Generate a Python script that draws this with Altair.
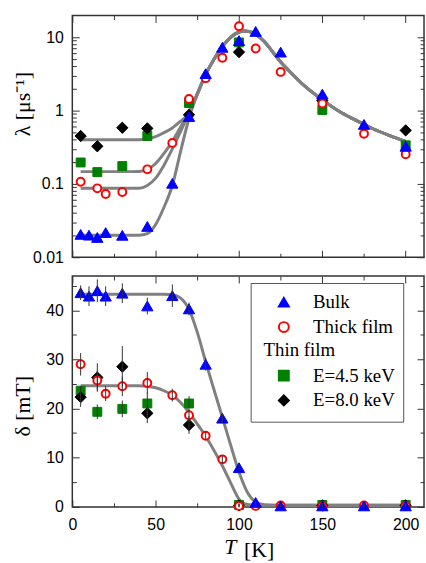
import altair as alt
import pandas as pd

# ---------------- legend groups ----------------
# group A: bulk / thick film (blank rows keep the framed box tall enough for the thin-film group)
A_DOM = ["Bulk", "Thick film", " ", "  ", "   "]
A_SHAPES = ["triangle-up", "circle", "circle", "circle", "circle"]
A_STROKES = ["#0000ff", "#ff0000", "transparent", "transparent", "transparent"]
A_FILLS = ["#0000ff", "#ffffff", "transparent", "transparent", "transparent"]
# group B: thin film
B_DOM = ["E=4.5 keV", "E=8.0 keV"]
B_SHAPES = ["square", "diamond"]
B_COLORS = ["#008000", "#000000"]

STYLE = {"Bulk": (130, 1), "Thick film": (64, 2), "E=4.5 keV": (81, 1), "E=8.0 keV": (130, 1)}
SERIF = "Liberation Serif, Times New Roman, serif"
SANS = "Liberation Sans, Arial, sans-serif"

# ---------------- top panel: lambda [1/us] ----------------
T_bulk = [5, 10, 15, 20, 30, 45, 60, 70, 80, 90, 100, 110, 125, 150, 175, 200]
lam_bulk = [0.0205, 0.020, 0.0186, 0.0217, 0.0199, 0.0263, 0.102, 0.83, 3.19, 7.3, 9.0, 12.0, 6.27, 1.68, 0.647, 0.326]
T_thick = [5, 15, 20, 30, 45, 60, 70, 80, 90, 100, 110, 125, 150, 175, 200]
lam_thick = [0.107, 0.087, 0.0727, 0.0774, 0.158, 0.362, 1.44, 2.77, 5.25, 14.1, 7.03, 3.37, 1.25, 0.484, 0.254]
T_thin = [5, 15, 30, 45, 70, 100, 150, 200]
lam_45 = [0.196, 0.145, 0.175, 0.45, 1.27, 8.5, 1.02, 0.336]
lam_80 = [0.45, 0.326, 0.583, 0.571, 0.875, 6.27, 1.37, 0.537]

Tc_top = [5, 10, 20, 30, 40, 45, 50, 55, 60, 65, 70, 75, 80, 85, 90, 95, 100, 103, 106, 110,
          115, 120, 125, 130, 140, 150, 160, 170, 180, 190, 200]
fit_bulk = [0.020, 0.020, 0.020, 0.020, 0.020, 0.021, 0.028, 0.048, 0.095, 0.28, 0.78, 1.7, 3.1, 5.0, 7.5, 10.0,
            11.8, 12.2, 12.0, 11.0, 8.8, 6.4, 4.6, 3.5, 2.1, 1.4, 0.98, 0.74, 0.57, 0.46, 0.38]
fit_thick = [0.087, 0.087, 0.087, 0.087, 0.087, 0.095, 0.12, 0.18, 0.30, 0.52, 0.93, 1.7, 3.1, 5.0, 7.5, 10.0,
             11.8, 12.2, 12.0, 11.0, 8.8, 6.4, 4.6, 3.5, 2.1, 1.4, 0.98, 0.74, 0.57, 0.46, 0.38]
fit_45 = [0.147, 0.147, 0.147, 0.147, 0.148, 0.158, 0.19, 0.26, 0.38, 0.60, 0.98, 1.7, 3.1, 5.0, 7.5, 10.0,
          11.8, 12.2, 12.0, 11.0, 8.8, 6.4, 4.6, 3.5, 2.1, 1.4, 0.98, 0.74, 0.57, 0.46, 0.38]
fit_80 = [0.40, 0.40, 0.40, 0.40, 0.40, 0.41, 0.44, 0.50, 0.58, 0.72, 0.92, 1.65, 3.1, 5.0, 7.5, 10.0,
          11.8, 12.2, 12.0, 11.0, 8.8, 6.4, 4.6, 3.5, 2.1, 1.4, 0.98, 0.74, 0.57, 0.46, 0.38]

# ---------------- bottom panel: delta [mT] ----------------
del_bulk = [43.6, 42.9, 44.0, 42.9, 43.5, 40.9, 43.0, 40.3, 29.0, 18.0, 7.9, 0.8, 0.1, 0.1, 0.1, 0.1]
err_bulk = [1.5, 2.0, 2.3, 2.0, 2.0, 1.7, 2.3, 1.3, 1.3, 1.0, 0.6, 0.4, 0.3, 0.3, 0.3, 0.3]
del_thick = [29.0, 25.7, 23.0, 24.5, 25.2, 22.7, 18.6, 14.4, 9.6, 0.1, 0.1, 0.2, 0.1, 0.2, 0.1]
err_thick = [2.3, 2.0, 1.5, 2.0, 2.2, 1.3, 1.0, 0.8, 0.8, 0.3, 0.3, 0.3, 0.3, 0.3, 0.3]
del_45 = [23.6, 19.3, 19.9, 21.0, 21.0, 0.3, 0.3, 0.3]
err_45 = [1.0, 1.5, 1.7, 2.2, 1.5, 0.3, 0.3, 0.3]
del_80 = [22.3, 26.3, 28.5, 19.0, 16.6, 0.2, 0.2, 0.2]
err_80 = [2.0, 2.9, 4.2, 2.0, 1.8, 0.3, 0.3, 0.3]

Tc_bulk = [5, 20, 40, 55, 60, 65, 70, 75, 80, 85, 90, 95, 100, 105, 110, 115, 120, 150, 200]
fitd_bulk = [43.3, 43.3, 43.3, 43.3, 43.2, 42.5, 40.2, 35.5, 29.5, 23.8, 18.2, 12.5, 7.0, 2.9, 0.9, 0.35, 0.25, 0.25, 0.25]
Tc_thick = [5, 20, 40, 45, 50, 55, 60, 65, 70, 75, 80, 85, 90, 95, 100, 105, 110, 150, 200]
fitd_thick = [24.6, 24.6, 24.6, 24.5, 24.2, 23.6, 22.7, 21.2, 19.2, 16.8, 14.3, 11.4, 8.3, 4.8, 1.5, 0.4, 0.25, 0.25, 0.25]


def pts_df(T, v, s, err=None):
    d = pd.DataFrame({"T": T, "v": v, "s": s})
    d["sz"] = STYLE[s][0]
    d["sw"] = STYLE[s][1]
    if err is not None:
        d["lo"] = [a - b for a, b in zip(v, err)]
        d["hi"] = [a + b for a, b in zip(v, err)]
    return d


top_A = pd.concat([pts_df(T_thick, lam_thick, "Thick film"), pts_df(T_bulk, lam_bulk, "Bulk")])
top_B = pd.concat([pts_df(T_thin, lam_45, "E=4.5 keV"), pts_df(T_thin, lam_80, "E=8.0 keV")])
bot_A = pd.concat([pts_df(T_thick, del_thick, "Thick film", err_thick), pts_df(T_bulk, del_bulk, "Bulk", err_bulk)])
bot_B = pd.concat([pts_df(T_thin, del_45, "E=4.5 keV", err_45), pts_df(T_thin, del_80, "E=8.0 keV", err_80)])
bot_err = pd.concat([bot_B, bot_A])

top_fit_a = pd.concat([pd.DataFrame({"T": Tc_top, "v": fit_bulk, "c": "b"}),
                       pd.DataFrame({"T": Tc_top, "v": fit_thick, "c": "t"})])
top_fit_b = pd.concat([pd.DataFrame({"T": Tc_top, "v": fit_45, "c": "g"}),
                       pd.DataFrame({"T": Tc_top, "v": fit_80, "c": "k"})])
bot_fit = pd.concat([pd.DataFrame({"T": Tc_bulk, "v": fitd_bulk, "c": "b"}),
                     pd.DataFrame({"T": Tc_thick, "v": fitd_thick, "c": "t"})])

XS = alt.Scale(domain=[0, 211], nice=False, zero=False)
YS_TOP = alt.Scale(type="log", domain=[0.01, 19.8], nice=False)
YS_BOT = alt.Scale(domain=[-0.1, 47], nice=False, zero=False)

XMAJ = [0, 50, 100, 150, 200]
XMIN = [25, 75, 125, 175]
YT_MAJ = [0.01, 0.1, 1, 10]
YT_MIN = [0.02, 0.03, 0.04, 0.05, 0.06, 0.07, 0.08, 0.09, 0.2, 0.3, 0.4, 0.5, 0.6, 0.7, 0.8, 0.9,
          2, 3, 4, 5, 6, 7, 8, 9]
YB_MAJ = [0, 10, 20, 30, 40]
YB_MIN = [5, 15, 25, 35, 45]
MAJ, MIN = 7, 4


def axis(orient, values, size, labels=False, title=None, **kw):
    d = dict(orient=orient, values=values, tickSize=size, offset=-size, labels=labels,
             domain=False, grid=False, labelFlush=False, labelOverlap=False)
    d.update(kw)
    return alt.Axis(title=title, **d)


LEG_COMMON = dict(orient="none", direction="vertical", labelFont=SERIF, labelFontSize=19,
                  labelColor="black", symbolSize=100, symbolStrokeWidth=2, rowPadding=5, labelOffset=20)
LEG_A = alt.Legend(title=None, legendX=180, legendY=7, fillColor="transparent", strokeColor="#555555",
                   padding=10, symbolOffset=14, **LEG_COMMON)
LEG_B = alt.Legend(title="Thin film", legendX=193, legendY=66, padding=0, symbolOffset=11,
                   titleFont=SERIF, titleFontSize=19, titleFontWeight="normal",
                   titleColor="black", titlePadding=6, titleAnchor="start", **LEG_COMMON)


def points(df, dom, shapes, strokes, fills, leg, xax, yax, ys):
    return alt.Chart(df).mark_point(opacity=1, fillOpacity=1).encode(
        x=alt.X("T:Q", scale=XS, axis=xax),
        y=alt.Y("v:Q", scale=ys, axis=yax),
        size=alt.Size("sz:Q", scale=None, legend=None),
        strokeWidth=alt.StrokeWidth("sw:Q", scale=None, legend=None),
        stroke=alt.Stroke("s:N", scale=alt.Scale(domain=dom, range=strokes), legend=leg),
        fill=alt.Fill("s:N", scale=alt.Scale(domain=dom, range=fills), legend=leg),
        shape=alt.Shape("s:N", scale=alt.Scale(domain=dom, range=shapes), legend=leg),
    )


def fit_lines(df, xax, yax, ys):
    return alt.Chart(df).mark_line(color="#808080", strokeWidth=3, interpolate="monotone").encode(
        x=alt.X("T:Q", scale=XS, axis=xax),
        y=alt.Y("v:Q", scale=ys, axis=yax),
        detail="c:N",
    )


IND = dict(shape="independent", fill="independent", stroke="independent")

# ---- top panel ----
top = alt.layer(
    fit_lines(top_fit_a, axis("bottom", XMAJ, MAJ),
              axis("left", YT_MAJ, MAJ, labels=True, labelPadding=9, format="~g",
                   title="λ [μs⁻¹]", titleX=-45, titleY=89, titleAngle=270,
                   titleAlign="center", titleBaseline="bottom"), YS_TOP),
    fit_lines(top_fit_b, axis("bottom", XMIN, MIN), axis("left", YT_MIN, MIN), YS_TOP),
    points(top_B, B_DOM, B_SHAPES, B_COLORS, B_COLORS, None,
           axis("top", XMAJ, MAJ), axis("right", YT_MAJ, MAJ), YS_TOP),
    points(top_A, A_DOM, A_SHAPES, A_STROKES, A_FILLS, None,
           axis("top", XMIN, MIN), axis("right", YT_MIN, MIN), YS_TOP),
).resolve_axis(x="independent", y="independent").resolve_scale(**IND).properties(width=355, height=244)

# ---- bottom panel ----
errs = alt.Chart(bot_err).mark_rule(color="#333333", strokeWidth=1).encode(
    x=alt.X("T:Q", scale=XS, axis=axis("top", XMIN, MIN)),
    y=alt.Y("lo:Q", scale=YS_BOT, axis=axis("right", YB_MIN, MIN)),
    y2="hi:Q",
)
bottom = alt.layer(
    fit_lines(bot_fit,
              axis("bottom", XMAJ, MAJ, labels=True, labelPadding=10, format="d",
                   title="T", titleX=159, titleY=54, titleFontStyle="italic",
                   titleAlign="center", titleBaseline="alphabetic"),
              axis("left", YB_MAJ, MAJ, labels=True, labelPadding=9, format="d",
                   title="δ [mT]", titleX=-45, titleY=131, titleAngle=270,
                   titleAlign="center", titleBaseline="bottom"), YS_BOT),
    points(bot_B, B_DOM, B_SHAPES, B_COLORS, B_COLORS, LEG_B,
           axis("bottom", XMIN, MIN, title="[K]", titleX=188, titleY=54, titleAlign="center",
                titleBaseline="alphabetic"),
           axis("left", YB_MIN, MIN), YS_BOT),
    points(bot_A, A_DOM, A_SHAPES, A_STROKES, A_FILLS, LEG_A,
           axis("top", XMAJ, MAJ), axis("right", YB_MAJ, MAJ), YS_BOT),
    errs,
).resolve_axis(x="independent", y="independent").resolve_scale(**IND).properties(width=355, height=233)

chart = alt.vconcat(top, bottom, spacing=8).resolve_scale(
    x="independent", y="independent", **IND
).properties(
    padding={"left": 11, "top": 11, "right": 0, "bottom": 0}
).configure_axis(
    labelFont=SANS, labelFontSize=16, labelColor="black",
    titleFont=SERIF, titleFontSize=22, titleFontWeight="normal", titleColor="black",
    tickColor="#333333", tickWidth=1,
).configure_legend(
    labelFont=SERIF, titleFont=SERIF,
).configure_view(stroke="#333333", strokeWidth=1.5)

chart.save("out.html", embed_options={"renderer": "svg", "actions": False})
